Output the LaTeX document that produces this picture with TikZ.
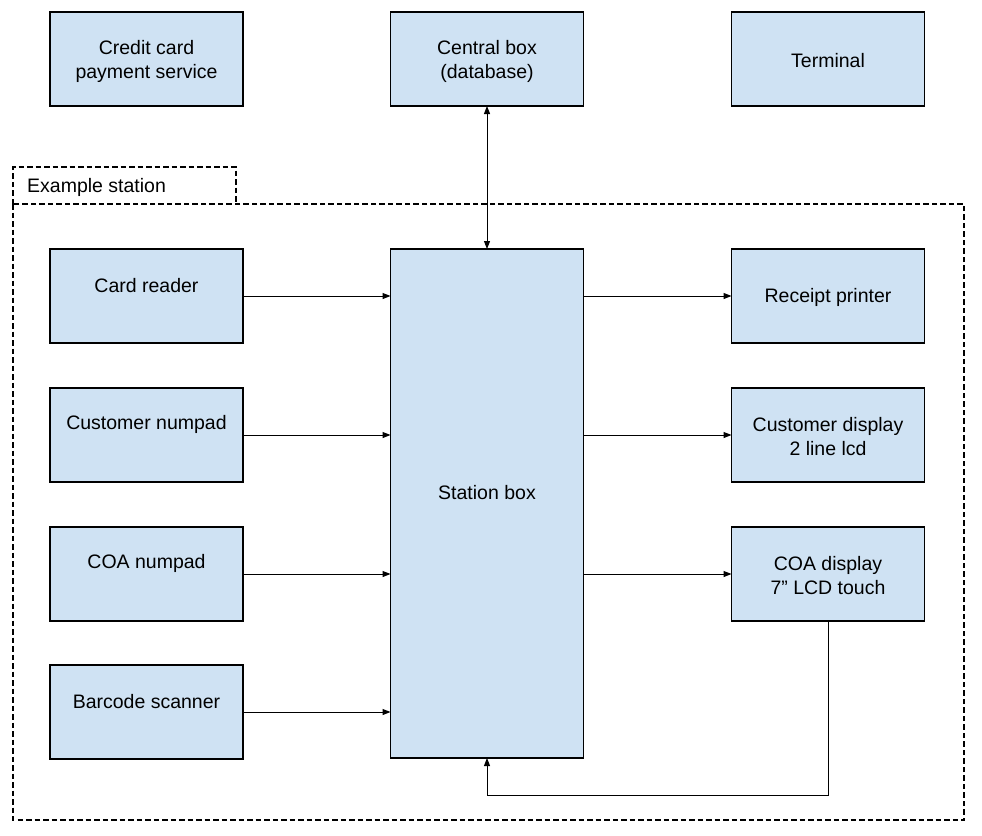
\documentclass[tikz,border=0pt]{standalone}
\usepackage{fontspec}
\setmainfont{Liberation Sans}
\usetikzlibrary{arrows.meta}
\definecolor{boxfill}{HTML}{CFE2F3}
\tikzset{
  blk/.style={draw=black, fill=boxfill, line width=1.1pt, inner sep=0pt, outer sep=0pt,
    minimum width=193pt, minimum height=94pt, align=center,
    font=\fontsize{19.5}{24}\selectfont},
  arr/.style={line width=1pt, -{Triangle[length=8pt,width=6pt]}},
  darr/.style={line width=1pt, {Triangle[length=8pt,width=6pt]}-{Triangle[length=8pt,width=6pt]}},
  frame/.style={line width=1.1pt, dash pattern=on 5.5pt off 3pt},
  lbl/.style={font=\fontsize{19.5}{24}\selectfont, inner sep=0pt, align=center}
}
\begin{document}
\begin{tikzpicture}[x=1pt,y=-1pt]
\useasboundingbox (0,0) rectangle (982,835);
% top row
\node[blk] (ccps) at (146.5,59) {};
\node[lbl] (ccpst) at (146.5,61.5) {Credit card\\payment service};
\node[blk] (central) at (487,59) {};
\node[lbl] (centralt) at (487,61.5) {Central box\\(database)};
\node[blk] (term) at (828,59) {};
\node[lbl] (termt) at (828,60.5) {Terminal};
% example station frame
\draw[frame] (13,204) -- (13,167) -- (236,167) -- (236,204);
\draw[frame] (13,204) rectangle (964,820);
\node[lbl, anchor=west] (exlbl) at (27,187) {Example station};
% left column
\node[blk] (card) at (146.5,296) {};
\node[lbl] (cardt) at (146.5,286) {Card reader};
\node[blk] (cnum) at (146.5,435) {};
\node[lbl] (cnumt) at (146.5,424) {Customer numpad};
\node[blk] (coan) at (146.5,574) {};
\node[lbl] (coant) at (146.5,563) {COA numpad};
\node[blk] (bar) at (146.5,712) {};
\node[lbl] (bart) at (146.5,702) {Barcode scanner};
% station box
\node[blk, minimum height=509pt] (station) at (487,503.5) {};
\node[lbl] (stationt) at (487,493) {Station box};
% right column
\node[blk] (rp) at (828,296) {};
\node[lbl] (rpt) at (828,297) {Receipt printer};
\node[blk] (cdisp) at (828,435) {};
\node[lbl] (cdispt) at (828,437) {Customer display\\2 line lcd};
\node[blk] (coad) at (828,574) {};
\node[lbl] (coadt) at (828,576) {COA display\\7” LCD touch};
% connectors
\draw[darr] (central.south) -- (central.south |- station.north);
\draw[arr] (card.east) -- (card.east -| station.west);
\draw[arr] (cnum.east) -- (cnum.east -| station.west);
\draw[arr] (coan.east) -- (coan.east -| station.west);
\draw[arr] (bar.east) -- (bar.east -| station.west);
\draw[arr] (rp.west -| station.east) -- (rp.west);
\draw[arr] (cdisp.west -| station.east) -- (cdisp.west);
\draw[arr] (coad.west -| station.east) -- (coad.west);
\coordinate (fb) at (487,795);
\draw[arr] (coad.south) |- (fb) -- (station.south);
\end{tikzpicture}
\end{document}
